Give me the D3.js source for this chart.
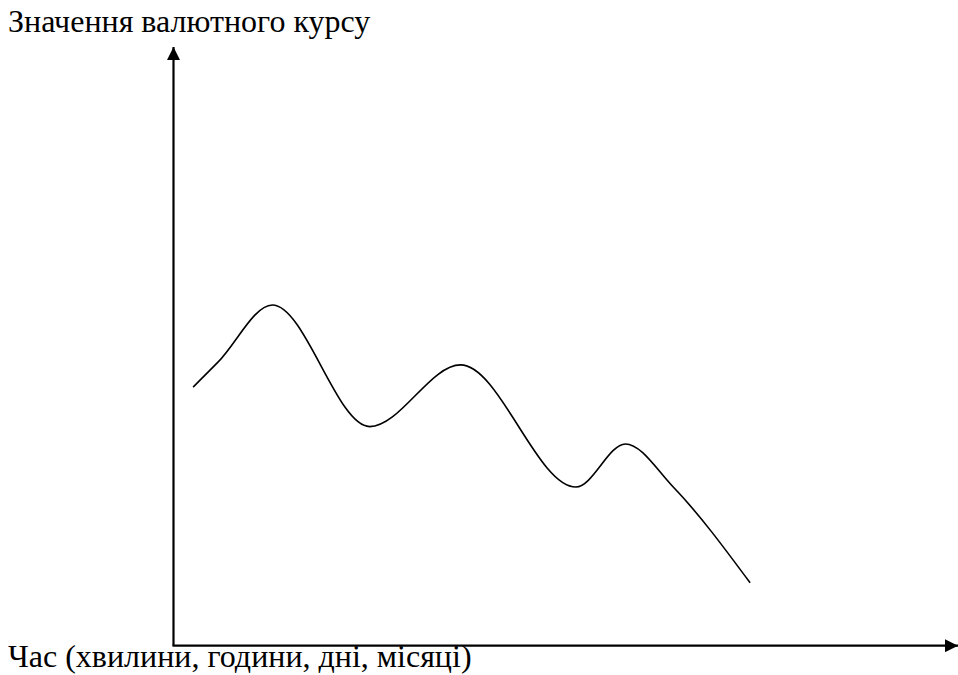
<!DOCTYPE html>
<html>
<head>
<meta charset="utf-8">
<script src="https://cdn.jsdelivr.net/npm/d3@7"></script>
<style>
  body { margin: 0; background: #fff; }
  svg { display: block; }
  .lbl { font-family: "Liberation Serif", "Times New Roman", Times, serif; font-size: 32px; }
</style>
</head>
<body>
<div id="chart"></div>
<script>
// time (arbitrary units 0..100) and exchange-rate value (arbitrary units 0..100)
const timePoints = [2.5, 5.7, 12.6, 25.0, 36.6, 51.3, 57.6, 63.7, 73.5];
const rateValues = [43.2, 47.4, 56.9, 36.6, 46.9, 26.5, 33.7, 26.5, 10.5];
const yTitle = "Значення валютного курсу";
const xTitle = "Час (хвилини, години, дні, місяці)";

const width = 958, height = 675;
const svg = d3.select("#chart").append("svg")
  .attr("width", width)
  .attr("height", height);

const x = d3.scaleLinear().domain([0, 100]).range([173.5, 958]);
const y = d3.scaleLinear().domain([0, 100]).range([645.7, 47]);

// arrowhead
svg.append("defs").append("marker")
  .attr("id", "arrow")
  .attr("viewBox", "0 0 10 10")
  .attr("refX", 10)
  .attr("refY", 5)
  .attr("markerUnits", "userSpaceOnUse")
  .attr("markerWidth", 14)
  .attr("markerHeight", 13)
  .attr("orient", "auto")
  .append("path")
  .attr("d", "M0,0L10,5L0,10Z")
  .attr("fill", "#000");

// axes
svg.append("line")
  .attr("x1", x(0)).attr("y1", y(0))
  .attr("x2", x(0)).attr("y2", y(100))
  .attr("stroke", "#000")
  .attr("stroke-width", 2.2)
  .attr("marker-end", "url(#arrow)");

svg.append("line")
  .attr("x1", x(0) - 1).attr("y1", y(0))
  .attr("x2", x(100)).attr("y2", y(0))
  .attr("stroke", "#000")
  .attr("stroke-width", 2.2)
  .attr("marker-end", "url(#arrow)");

// curve
const data = timePoints.map((t, i) => ({ t, v: rateValues[i] }));
const line = d3.line()
  .x(d => x(d.t))
  .y(d => y(d.v))
  .curve(d3.curveMonotoneX);

svg.append("path")
  .datum(data)
  .attr("d", line)
  .attr("fill", "none")
  .attr("stroke", "#000")
  .attr("stroke-width", 1.6);

// labels
svg.append("text")
  .attr("class", "lbl")
  .attr("x", 8)
  .attr("y", 32)
  .attr("fill", "#000")
  .text(yTitle);

svg.append("text")
  .attr("class", "lbl")
  .attr("x", 8)
  .attr("y", 667)
  .attr("fill", "#000")
  .text(xTitle);
</script>
</body>
</html>
